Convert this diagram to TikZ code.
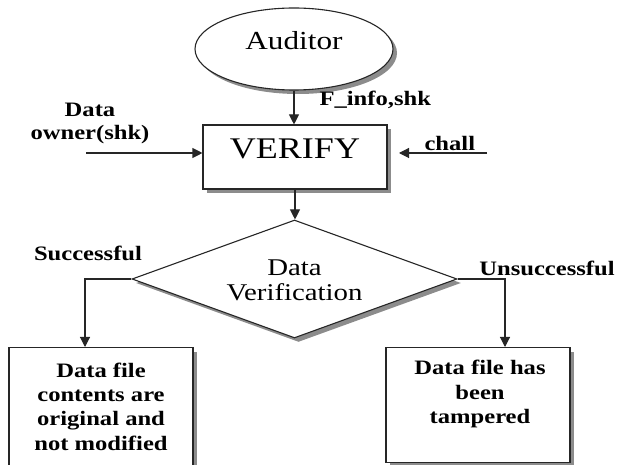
\documentclass[tikz,border=0pt]{standalone}
\usepackage{fontspec}
\setmainfont{Liberation Serif}[FakeStretch=1.2]
\usetikzlibrary{shapes.geometric,shadows,arrows.meta}
\begin{document}
\begin{tikzpicture}[x=1pt,y=-1pt,
  line width=1.1pt,
  arr/.style={draw=black!85,-{Triangle[length=10pt,width=10pt]}},
  shad/.style={drop shadow={shadow xshift=4pt,shadow yshift=-4pt,fill=black!45,opacity=1}},
  shapebox/.style={draw=black!85,fill=white,shad,inner sep=0pt},
  lbl/.style={font=\bfseries\fontsize{20.5}{23}\selectfont,inner sep=0pt,align=center},
  boxtxt/.style={font=\bfseries\fontsize{20.5}{24.3}\selectfont,inner sep=0pt,align=center}
]
\useasboundingbox (0,0) rectangle (619,465);
\clip (0,0) rectangle (619,465);

% Auditor
\node[shapebox,ellipse,minimum width=198pt,minimum height=82pt,
  font=\fontsize{26}{28}\selectfont,text height=2pt,text depth=0pt] (aud) at (294,49) {Auditor};

% VERIFY
\node[shapebox,rectangle,minimum width=184pt,minimum height=64pt,
  font=\fontsize{30}{32}\selectfont,text height=4pt,text depth=0pt] (ver) at (295,157) {VERIFY};

\draw[arr] (aud.south) -- (aud.south |- ver.north);
\node[lbl,anchor=west] (finfo) at (319,100) {F\_info,shk};

% Data owner
\node[lbl] (own) at (90,123) {Data\\owner(shk)};
\coordinate (ownstart) at (86,153);
\draw[arr] (ownstart) -- (ver.west |- ownstart);

% chall
\coordinate (challstart) at (487,153);
\coordinate (challend) at (399,153);
\draw[arr] (challstart) -- (challend);
\node[lbl,anchor=south west] (chall) at (424,151) {chall};

% Decision
\node[shapebox,diamond,minimum width=325pt,minimum height=118pt] (dv) at (294.5,279) {};
\node[font=\fontsize{24}{25}\selectfont,inner sep=0pt,align=center] (dvt) at (294.5,280.5) {Data\\Verification};
\draw[arr] (ver.south) -- (ver.south |- dv.north);

% Result boxes
\node[shapebox,rectangle,minimum width=184pt,minimum height=160pt,anchor=north] (ok) at (101,347) {};
\node[boxtxt] (oktxt) at (101,406.5) {Data file\\contents are\\original and\\not modified};
\node[shapebox,rectangle,minimum width=184pt,minimum height=115pt,anchor=north] (bad) at (478,347) {};
\node[boxtxt] (badtxt) at (480,394) {Data file has\\been\\tampered};

% Branches
\coordinate (lc) at (85,279);
\coordinate (rc) at (505,279);
\draw[arr] (dv.west) -- (lc) -- (lc |- ok.north);
\draw[arr] (dv.east) -- (rc) -- (rc |- bad.north);
\node[lbl] (succ) at (88,253) {Successful};
\node[lbl] (unsucc) at (547,268) {Unsuccessful};
\end{tikzpicture}
\end{document}
